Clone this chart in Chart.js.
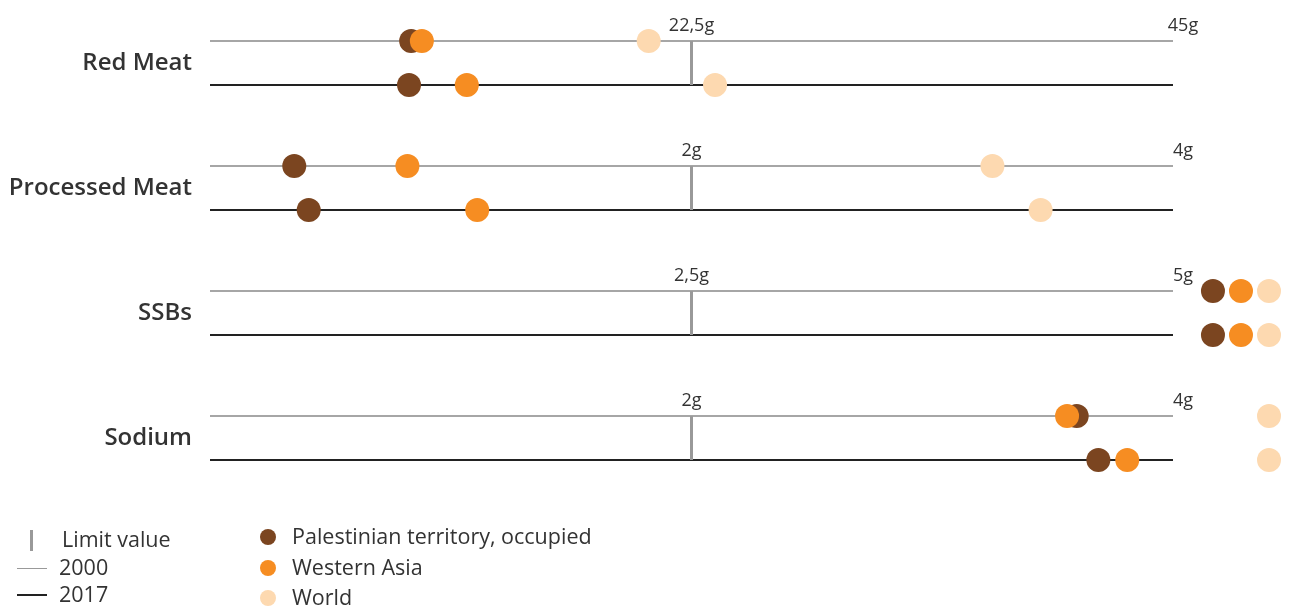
<!DOCTYPE html>
<html>
<head>
<meta charset="utf-8">
<script src="https://cdn.jsdelivr.net/npm/chart.js@4.4.1/dist/chart.umd.min.js"></script>
<style>
  body { margin: 0; background: #fff; font-family: "Open Sans", sans-serif; color: #333; }
  #wrap { position: relative; width: 1290px; height: 608px; }
  canvas { position: absolute; left: 0; top: 0; }
  .legend { position: absolute; left: 0; top: 0; font-size: 21.5px; line-height: 22px; }
  .legend div { position: absolute; white-space: nowrap; }
  .dot { position: absolute; width: 16px; height: 16px; border-radius: 50%; }
</style>
</head>
<body>
<div id="wrap">
  <canvas id="chart" width="1290" height="608"></canvas>
  <div class="legend">
    <div style="left:30px;top:530px;width:3px;height:21px;background:#999"></div>
    <div style="left:62px;top:528px">Limit value</div>
    <div style="left:17px;top:568px;width:30px;height:1px;background:#999"></div>
    <div style="left:59px;top:556px">2000</div>
    <div style="left:17px;top:594px;width:30px;height:2px;background:#222"></div>
    <div style="left:59px;top:583px">2017</div>
    <span class="dot" style="left:260px;top:529px;background:#7b4520"></span>
    <div style="left:292px;top:525px">Palestinian territory, occupied</div>
    <span class="dot" style="left:260px;top:560px;background:#f68d22"></span>
    <div style="left:292px;top:556px">Western Asia</div>
    <span class="dot" style="left:260px;top:590px;background:#fdd9b0"></span>
    <div style="left:292px;top:586px">World</div>
  </div>
</div>
<script>
// Data
const rows = ['Red Meat', 'Processed Meat', 'SSBs', 'Sodium'];
const rowMax = [45, 4, 5, 4];
const limitLabels = ['22,5g', '2g', '2,5g', '2g'];
const maxLabels = ['45g', '4g', '5g', '4g'];

// grams per row, null = beyond the scale (drawn in the overflow slots)
const pal2000 = [9.4, 0.35, null, 3.6];
const pal2017 = [9.3, 0.41, null, 3.69];
const wa2000 = [9.9, 0.82, null, 3.56];
const wa2017 = [12.0, 1.11, null, 3.81];
const world2000 = [20.5, 3.25, null, null];
const world2017 = [23.6, 3.45, null, null];

const colors = ['#7b4520', '#f68d22', '#fdd9b0'];
const yearGap = 0.352;

const toPoints = (vals, k, yearOffset) =>
  vals.map((v, i) => ({
    x: v === null ? 1.0124 + 0.0291 * (k + 1) : v / rowMax[i],
    y: i + yearOffset
  }));

const datasets = [];

// dots (lower order drawn on top)
[[pal2000, pal2017, 0, 3], [wa2000, wa2017, 1, 2], [world2000, world2017, 2, 1]].forEach(([a, b, k, ord]) => {
  datasets.push({
    data: toPoints(a, k, 0).concat(toPoints(b, k, yearGap)),
    backgroundColor: colors[k],
    borderWidth: 0,
    pointRadius: 12,
    pointHoverRadius: 12,
    order: ord
  });
});

// year lines and limit lines
rows.forEach((r, i) => {
  datasets.push({
    data: [{ x: 0, y: i }, { x: 1, y: i }],
    showLine: true, borderColor: '#a6a6a6', borderWidth: 2, pointRadius: 0, order: 10
  });
  datasets.push({
    data: [{ x: 0, y: i + yearGap }, { x: 1, y: i + yearGap }],
    showLine: true, borderColor: '#222', borderWidth: 2, pointRadius: 0, order: 10
  });
  datasets.push({
    data: [{ x: 0.5, y: i }, { x: 0.5, y: i + yearGap }],
    showLine: true, borderColor: '#999', borderWidth: 3, pointRadius: 0, order: 9
  });
});

const scaleLabels = {
  id: 'scaleLabels',
  afterDatasetsDraw(chart) {
    const { ctx, scales: { x, y } } = chart;
    ctx.save();
    ctx.font = '18px "Open Sans"';
    ctx.fillStyle = '#333';
    ctx.textAlign = 'center';
    ctx.textBaseline = 'alphabetic';
    rows.forEach((r, i) => {
      const yy = y.getPixelForValue(i) - 10;
      ctx.fillText(limitLabels[i], x.getPixelForValue(0.5), yy);
      ctx.fillText(maxLabels[i], x.getPixelForValue(1) + 10, yy);
    });
    ctx.restore();
  }
};

new Chart(document.getElementById('chart'), {
  type: 'scatter',
  data: { datasets },
  options: {
    responsive: false,
    animation: false,
    layout: { autoPadding: false, padding: { top: 0, right: 0, bottom: 108, left: 0 } },
    plugins: { legend: { display: false }, tooltip: { enabled: false } },
    scales: {
      x: { display: false, min: 0, max: 1.1215 },
      y: {
        reverse: true,
        min: -0.328,
        max: 3.672,
        afterBuildTicks: (scale) => {
          scale.ticks = rows.map((r, i) => ({ value: i + yearGap / 2 }));
        },
        afterFit: (scale) => {
          scale.width = 210;
          scale.paddingTop = 0;
          scale.paddingBottom = 0;
        },
        grid: { display: false },
        border: { display: false },
        ticks: {
          padding: 10,
          color: '#333',
          font: { family: 'Open Sans', size: 24, weight: '600' },
          callback: (v, idx) => rows[idx]
        }
      }
    }
  },
  plugins: [scaleLabels]
});
</script>
</body>
</html>
